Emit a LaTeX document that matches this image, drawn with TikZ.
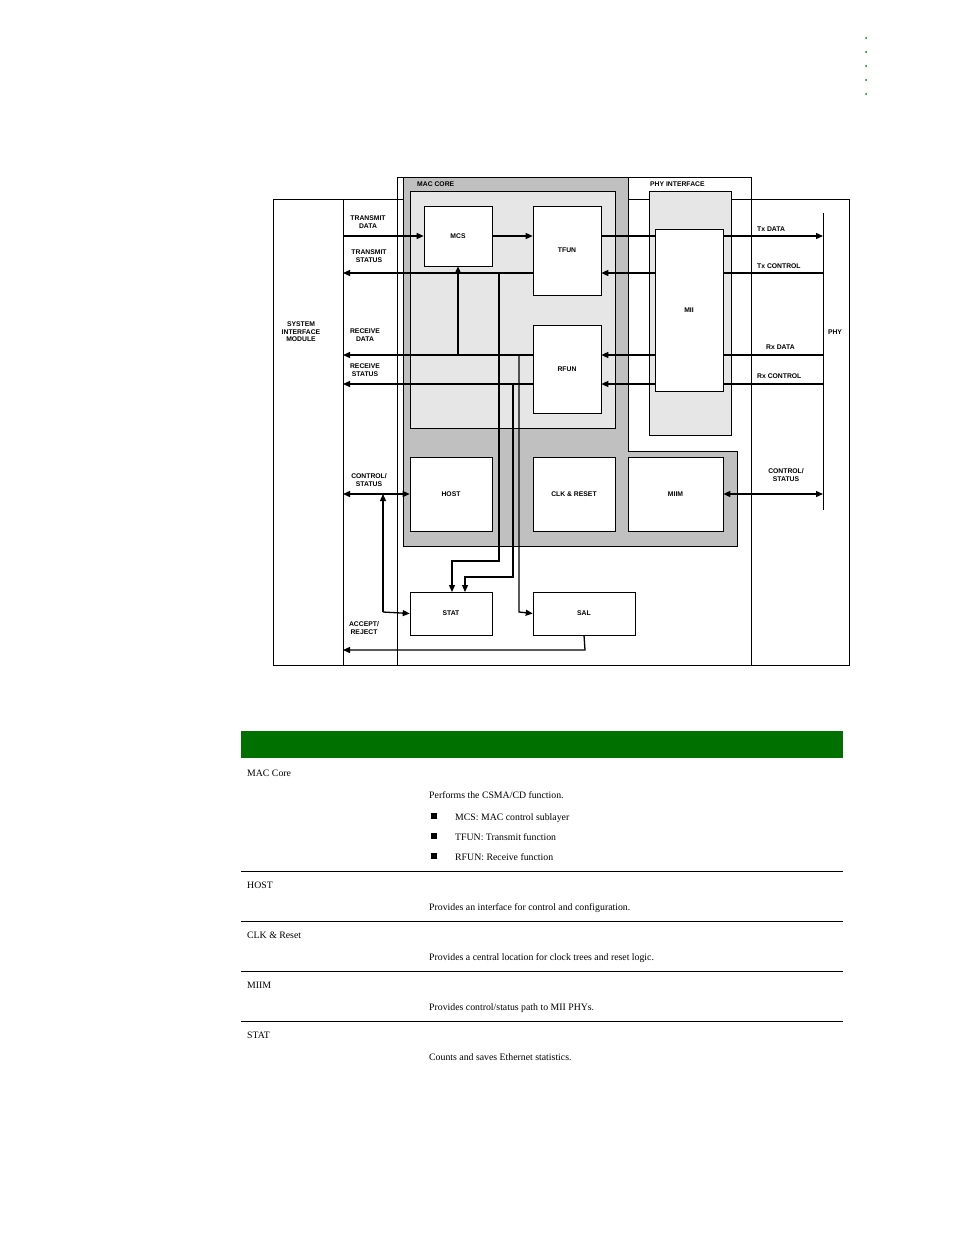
\documentclass[tikz,border=0pt]{standalone}
\usepackage{fontspec}
\setmainfont{Liberation Serif}
\newfontfamily\dg{Liberation Sans}
\usetikzlibrary{arrows.meta}
\definecolor{hdr}{RGB}{0,112,0}
\definecolor{g1}{RGB}{192,192,192}
\definecolor{g2}{RGB}{230,230,230}
\tikzset{x=1pt,y=-1pt,
 blk/.style={draw,fill=white,line width=0.6pt},
 lab/.style={font=\dg\fontsize{6.8}{7.6}\selectfont\bfseries,align=center,inner sep=0pt},
 sig/.style={line width=1.3pt,-{Triangle[length=7pt,width=6pt]}},
 sig2/.style={line width=1.3pt,{Triangle[length=7pt,width=6pt]}-{Triangle[length=7pt,width=6pt]}},
 ln/.style={line width=1.3pt},
 txt/.style={font=\fontsize{9.8}{12}\selectfont,anchor=base west,inner sep=0pt}}
\begin{document}
\begin{tikzpicture}
\useasboundingbox (0,0) rectangle (954,1235);
% dots
\foreach \y in {38,52,66,80,94} \fill[hdr] (866,\y) circle (1pt);
% outer frames
\draw[line width=0.6pt] (273,199) rectangle (849,665);
\draw[line width=0.6pt] (397,177) rectangle (751,665);
\draw[line width=0.6pt] (343,199) -- (343,665);
\draw[line width=0.6pt] (628,177) -- (628,451);
% MAC core
\fill[g1,draw=black,line width=0.6pt] (403,177) -- (628,177) -- (628,451) -- (737,451) -- (737,546) -- (403,546) -- cycle;
\draw[fill=g2,line width=0.6pt] (410,191) rectangle (615,428);
\node[lab,anchor=west] (maclab) at (417,184) {MAC CORE};
% PHY interface
\node[lab,anchor=west] (phylab) at (650,184) {PHY INTERFACE};
\draw[fill=g2,line width=0.6pt] (649,191) rectangle (731,435);
\node[blk,minimum width=68pt,minimum height=162pt] (mii) at (689,310) {};
\node[lab] at (689,310) {MII};
% boxes
\node[blk,minimum width=68pt,minimum height=60pt] (mcs) at (458,236) {};
\node[lab] at (mcs) {MCS};
\node[blk,minimum width=68pt,minimum height=89pt] (tfun) at (567,250.5) {};
\node[lab] at (tfun) {TFUN};
\node[blk,minimum width=68pt,minimum height=88pt] (rfun) at (567,369) {};
\node[lab] at (rfun) {RFUN};
\node[blk,minimum width=82pt,minimum height=74pt] (host) at (451,494) {};
\node[lab] at (host) {HOST};
\node[blk,minimum width=82pt,minimum height=74pt] (clk) at (574,494) {};
\node[lab] at (clk) {CLK \& RESET};
\node[blk,minimum width=95pt,minimum height=74pt] (miim) at (675.5,494) {};
\node[lab] at (miim) {MIIM};
\node[blk,minimum width=82pt,minimum height=43pt] (stat) at (451,613.5) {};
\node[lab] at (stat) {STAT};
\node[blk,minimum width=102pt,minimum height=43pt] (sal) at (584,613.5) {};
\node[lab] at (sal) {SAL};
% labels
\node[lab] at (301,332) {SYSTEM\\INTERFACE\\MODULE};
\node[lab] at (368,222) {TRANSMIT\\DATA};
\node[lab] at (369,256) {TRANSMIT\\STATUS};
\node[lab] at (365,335) {RECEIVE\\DATA};
\node[lab] at (365,370) {RECEIVE\\STATUS};
\node[lab] at (369,480) {CONTROL/\\STATUS};
\node[lab] at (364,628) {ACCEPT/\\REJECT};
\node[lab] at (835,332) {PHY};
\node[lab,anchor=west] at (757,229) {Tx DATA};
\node[lab,anchor=west] at (757,266) {Tx CONTROL};
\node[lab,anchor=west] at (766,347) {Rx DATA};
\node[lab,anchor=west] at (757,376) {Rx CONTROL};
\node[lab] at (786,475) {CONTROL/\\STATUS};
% PHY line
\coordinate (phyT) at (823,213); \coordinate (phyB) at (823,510);
\draw[line width=0.6pt] (phyT) -- (phyB);
% signals
\draw[sig] (343,236) -- (mcs.west);
\draw[sig] (mcs.east) -- (tfun.west |- 236,236);
\draw[sig] (tfun.west |- 273,273) -- (343,273);
\draw[sig] (rfun.west |- 355,355) -- (343,355);
\draw[sig] (rfun.west |- 384,384) -- (343,384);
\draw[sig] (458,355) -- (mcs.south);
\draw[ln] (tfun.east |- 236,236) -- (mii.west |- 236,236);
\draw[sig] (mii.east |- 236,236) -- (823,236);
\draw[ln] (823,273) -- (mii.east |- 273,273);
\draw[sig] (mii.west |- 273,273) -- (tfun.east |- 273,273);
\draw[ln] (823,355) -- (mii.east |- 355,355);
\draw[sig] (mii.west |- 355,355) -- (rfun.east |- 355,355);
\draw[ln] (823,384) -- (mii.east |- 384,384);
\draw[sig] (mii.west |- 384,384) -- (rfun.east |- 384,384);
\draw[sig2] (343,494) -- (host.west);
\draw[sig2] (miim.east) -- (823,494);
\draw[sig] (383,612) -- (383,494);
\draw[sig] (383,612) -- (stat.west);
\draw[sig] (499,273) -- (499,561) -- (452,561) -- (452,592);
\draw[sig] (513,384) -- (513,577) -- (465,577) -- (465,592);
\draw[sig] (519,355) -- (519,612) -- (sal.west);
\draw[sig] (sal.south) -- (585,650) -- (343,650);
% table
\fill[hdr] (241,731) rectangle (843,758);
\foreach \y in {871,921,971,1021} \draw[line width=0.5pt] (241,\y) -- (843,\y);
\node[txt] at (247,776) {MAC Core};
\node[txt] at (429,798) {Performs the CSMA/CD function.};
\foreach \y/\t in {820/MCS: MAC control sublayer,840/TFUN: Transmit function,860/RFUN: Receive function}{
 \fill (431,\y-7.5) rectangle +(6,6);
 \node[txt] at (455,\y) {\t};}
\node[txt] at (247,888) {HOST};
\node[txt] at (429,910) {Provides an interface for control and configuration.};
\node[txt] at (247,938) {CLK \& Reset};
\node[txt] at (429,960) {Provides a central location for clock trees and reset logic.};
\node[txt] at (247,988) {MIIM};
\node[txt] at (429,1010) {Provides control/status path to MII PHYs.};
\node[txt] at (247,1038) {STAT};
\node[txt] at (429,1060) {Counts and saves Ethernet statistics.};
\end{tikzpicture}
\end{document}
